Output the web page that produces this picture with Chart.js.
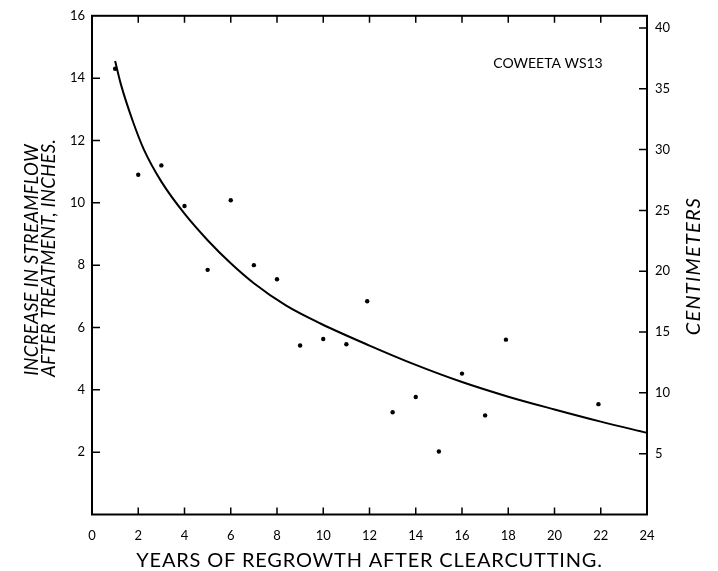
<!DOCTYPE html>
<html>
<head>
<meta charset="utf-8">
<script src="https://cdn.jsdelivr.net/npm/chart.js@4"></script>
<style>
  html, body { margin: 0; padding: 0; background: #fff; }
  #wrap { width: 718px; height: 571px; }
</style>
</head>
<body>
<div id="wrap"><canvas id="chartFlujo" width="718" height="571"></canvas></div>
<script>
// Datos (anios despues de la corta, aumento en pulgadas)
const anios = [1, 2, 3, 4, 5, 6, 7, 8, 9, 10, 11, 11.9, 13, 14, 15, 16, 17, 17.9, 21.9];
const aumento = [14.3, 10.9, 11.2, 9.9, 7.85, 10.08, 8.0, 7.55, 5.42, 5.63, 5.46, 6.84, 3.28, 3.77, 2.02, 4.52, 3.18, 5.61, 3.54];

// Curva ajustada (leida punto a punto)
const curvaX = [1, 1.25, 1.75, 2.25, 3, 4, 5, 6, 7, 8.4, 9.9, 12, 14, 16, 18, 20, 22, 24];
const curvaY = [14.55, 13.8, 12.65, 11.7, 10.68, 9.65, 8.8, 8.06, 7.42, 6.7, 6.12, 5.42, 4.8, 4.25, 3.78, 3.37, 2.98, 2.62];

const ticksX = [0, 2, 4, 6, 8, 10, 12, 14, 16, 18, 20, 22, 24];
const ticksPulg = [2, 4, 6, 8, 10, 12, 14, 16];
const ticksCm = [5, 10, 15, 20, 25, 30, 35, 40];

const fuente = 'Lato, "DejaVu Sans", sans-serif';

// Marco, marcas hacia adentro y titulos
const marcoPlugin = {
    id: 'marco',
    afterDraw(chart) {
        const ctx = chart.ctx;
        const a = chart.chartArea;
        const sx = chart.scales.x, sy = chart.scales.y, sc = chart.scales.y2;
        ctx.save();
        ctx.strokeStyle = '#000';
        ctx.lineWidth = 2;
        ctx.strokeRect(a.left, a.top, a.right - a.left, a.bottom - a.top);

        ctx.lineWidth = 1.5;
        ctx.beginPath();
        ticksX.slice(1, -1).forEach(v => {
            const px = sx.getPixelForValue(v);
            ctx.moveTo(px, a.bottom); ctx.lineTo(px, a.bottom - 7);
            ctx.moveTo(px, a.top); ctx.lineTo(px, a.top + 7);
        });
        ticksPulg.slice(0, -1).forEach(v => {
            const py = sy.getPixelForValue(v);
            ctx.moveTo(a.left, py); ctx.lineTo(a.left + 8, py);
        });
        ticksCm.forEach(v => {
            const py = sc.getPixelForValue(v);
            ctx.moveTo(a.right, py); ctx.lineTo(a.right - 8, py);
        });
        ctx.stroke();

        ctx.fillStyle = '#000';
        ctx.textAlign = 'center';
        ctx.textBaseline = 'middle';

        ctx.font = '14px ' + fuente;
        ctx.fillText('COWEETA WS13', 548, 63);

        ctx.font = '20px ' + fuente;
        ctx.letterSpacing = '0.8px';
        ctx.fillText('YEARS OF REGROWTH AFTER CLEARCUTTING.', (a.left + a.right) / 2, 561);

        ctx.font = 'italic 18.5px ' + fuente;
        ctx.letterSpacing = '0.3px';
        ctx.save();
        ctx.translate(32, 260);
        ctx.rotate(-Math.PI / 2);
        ctx.fillText('INCREASE IN STREAMFLOW', 0, 0);
        ctx.restore();
        ctx.save();
        ctx.translate(49, 258);
        ctx.rotate(-Math.PI / 2);
        ctx.fillText('AFTER TREATMENT, INCHES.', 0, 0);
        ctx.restore();

        ctx.font = 'italic 20px ' + fuente;
        ctx.letterSpacing = '1.2px';
        ctx.save();
        ctx.translate(694, 266);
        ctx.rotate(-Math.PI / 2);
        ctx.fillText('CENTIMETERS', 0, 0);
        ctx.restore();
        ctx.restore();
    }
};

const ctx = document.getElementById('chartFlujo').getContext('2d');
const chartFlujo = new Chart(ctx, {
    type: 'scatter',
    data: {
        datasets: [
            {
                label: 'Observado',
                data: anios.map((x, i) => ({ x: x, y: aumento[i] })),
                backgroundColor: '#000',
                borderColor: '#000',
                pointRadius: 2.2,
                pointBorderWidth: 0,
                yAxisID: 'y'
            },
            {
                label: 'Curva',
                data: curvaX.map((x, i) => ({ x: x, y: curvaY[i] })),
                showLine: true,
                borderColor: '#000',
                borderWidth: 2,
                pointRadius: 0,
                cubicInterpolationMode: 'monotone',
                fill: false,
                yAxisID: 'y'
            }
        ]
    },
    options: {
        responsive: false,
        animation: false,
        layout: { padding: { top: 14, bottom: 0, left: 0, right: 0 } },
        plugins: {
            legend: { display: false },
            tooltip: { enabled: false }
        },
        scales: {
            x: {
                type: 'linear',
                min: 0,
                max: 24,
                afterBuildTicks: s => { s.ticks = ticksX.map(v => ({ value: v })); },
                afterFit: s => { s.height = 56.5; },
                grid: { display: false, drawTicks: false },
                border: { display: false },
                ticks: { color: '#000', font: { family: fuente, size: 13 }, padding: 14, maxRotation: 0 }
            },
            y: {
                position: 'left',
                min: 0,
                max: 16,
                afterBuildTicks: s => { s.ticks = ticksPulg.map(v => ({ value: v })); },
                afterFit: s => { s.width = 92; },
                grid: { display: false, drawTicks: false },
                border: { display: false },
                ticks: { color: '#000', font: { family: fuente, size: 13 }, padding: 7 }
            },
            y2: {
                position: 'right',
                min: 0,
                max: 41,
                afterBuildTicks: s => { s.ticks = ticksCm.map(v => ({ value: v })); },
                afterFit: s => { s.width = 71; },
                grid: { display: false, drawTicks: false },
                border: { display: false },
                ticks: { color: '#000', font: { family: fuente, size: 13 }, padding: 8 }
            }
        }
    },
    plugins: [marcoPlugin]
});
</script>
</body>
</html>
